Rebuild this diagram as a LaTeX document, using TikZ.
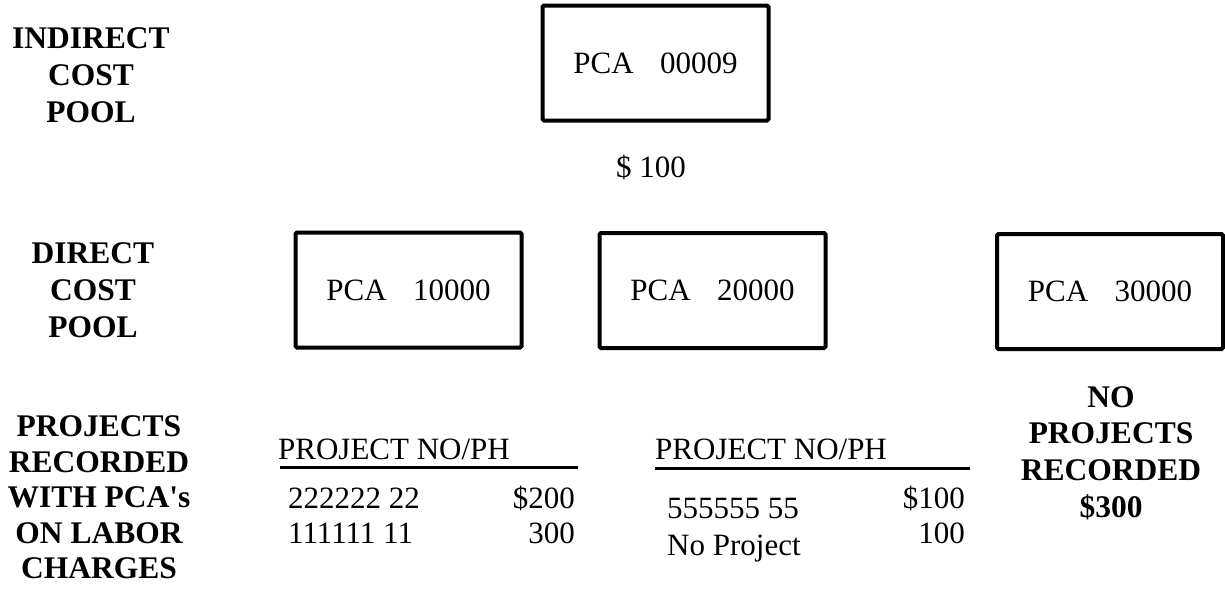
\documentclass[tikz,border=0pt]{standalone}
\usepackage{fontspec}
\setmainfont{Liberation Serif}
\begin{document}
\begin{tikzpicture}[x=1pt,y=-1pt,
  pcabox/.style={draw, line width=4pt, rounded corners=1.5pt,
    minimum width=226pt, minimum height=115pt, inner sep=0pt,
    font=\fontsize{31}{36}\selectfont},
  heading/.style={align=center, inner sep=0pt,
    font=\fontsize{31.5}{36.8}\selectfont\bfseries},
  entry/.style={inner sep=0pt, font=\fontsize{31}{36}\selectfont},
  tablerule/.style={line width=3pt}]
\useasboundingbox[fill=white] (0,0) rectangle (1225,592);

% indirect cost pool
\node[heading] (indirect) at (91,75) {INDIRECT\\COST\\POOL};
\node[pcabox] (pca9) at (655.5,63) {PCA\hspace{0.85em}00009};
\node[entry, anchor=base] (amount) at (651,177) {\$ 100};

% direct cost pool
\node[heading] (direct) at (93,290.5) {DIRECT\\COST\\POOL};
\node[pcabox] (pca1) at (408.5,290) {PCA\hspace{0.85em}10000};
\node[pcabox] (pca2) at (712.5,290.5) {PCA\hspace{0.85em}20000};
\node[pcabox] (pca3) at (1110,291.5) {PCA\hspace{0.85em}30000};

% projects recorded on labor charges
\node[heading, font=\fontsize{31.5}{35.5}\selectfont\bfseries] (projects) at (99,497.5)
  {PROJECTS\\RECORDED\\WITH PCA\textquotesingle s\\ON LABOR\\CHARGES};

% first project list
\node[entry, anchor=base west] (headA) at (278,459) {PROJECT NO/PH};
\coordinate (ruleAw) at (280,467);
\coordinate (ruleAe) at (578,467);
\draw[tablerule] (ruleAw) -- (ruleAe);
\node[entry, anchor=base west] (projA1) at (288,508) {222222 22};
\node[entry, anchor=base east] (amtA1) at (575,508) {\$200};
\node[entry, anchor=base west] (projA2) at (288,543) {111111 11};
\node[entry, anchor=base east] (amtA2) at (575,543) {300};

% second project list
\node[entry, anchor=base west] (headB) at (655,459) {PROJECT NO/PH};
\coordinate (ruleBw) at (655,468);
\coordinate (ruleBe) at (970,468);
\draw[tablerule] (ruleBw) -- (ruleBe);
\node[entry, anchor=base west] (projB1) at (667,518) {555555 55};
\node[entry, anchor=base east] (amtB1) at (965,508) {\$100};
\node[entry, anchor=base west] (projB2) at (667,555) {No Project};
\node[entry, anchor=base east] (amtB2) at (965,543) {100};

% no projects
\node[heading] (noproj) at (1111,453) {NO\\PROJECTS\\RECORDED\\\$300};
\end{tikzpicture}
\end{document}
